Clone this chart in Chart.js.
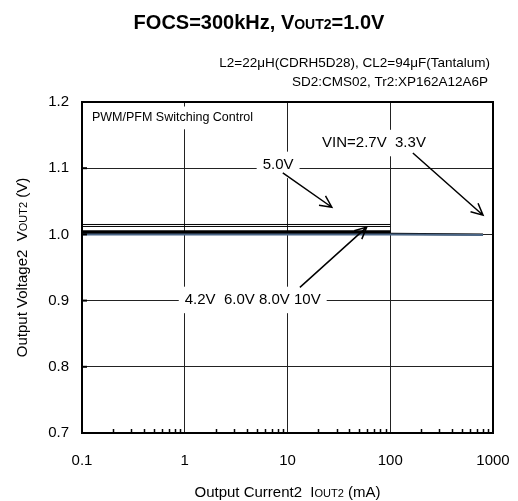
<!DOCTYPE html>
<html>
<head>
<meta charset="utf-8">
<script src="https://cdn.jsdelivr.net/npm/chart.js@4/dist/chart.umd.min.js"></script>
<style>
  html, body { margin: 0; padding: 0; background: #fff; }
</style>
</head>
<body>
<canvas id="chart" width="518" height="501"></canvas>
<script>
// ---- data ----
const currents     = [0.1, 1, 10, 100];          // mA
const currentsLong = [0.1, 1, 10, 100, 800];     // mA (low VIN curves run further)

const vin27 = [1.000, 1.000, 1.000, 1.000, 0.999];
const vin33 = [1.001, 1.001, 1.001, 1.001, 1.000];
const vin42 = [1.005, 1.005, 1.005, 1.005];
const vin50 = [1.015, 1.015, 1.015, 1.015];
const vin60 = [1.012, 1.012, 1.012, 1.012];
const vin80 = [1.004, 1.004, 1.004, 1.004];
const vin10 = [1.003, 1.003, 1.003, 1.003];

const xTicks = [0.1, 1, 10, 100, 1000];
const xTickLabels = ['0.1', '1', '10', '100', '1000'];
const yTicks = [0.7, 0.8, 0.9, 1.0, 1.1, 1.2];

const FONT = '"Liberation Sans", Arial, sans-serif';

function pts(xs, ys) {
  return ys.map((y, i) => ({ x: xs[i], y: y }));
}

function line(label, xs, ys, color, width) {
  return {
    label: label,
    data: pts(xs, ys),
    borderColor: color,
    borderWidth: width,
    pointRadius: 0,
    fill: false,
    tension: 0
  };
}

// draw text where part of it is set smaller (the "OUT2" subscript-ish caps)
function drawMixed(ctx, parts, x, y, align) {
  let total = 0;
  parts.forEach(p => { ctx.font = p.f; total += ctx.measureText(p.t).width; });
  let cx = align === 'center' ? x - total / 2 : (align === 'right' ? x - total : x);
  ctx.textAlign = 'left';
  ctx.textBaseline = 'alphabetic';
  parts.forEach(p => {
    ctx.font = p.f;
    ctx.fillText(p.t, cx, y);
    cx += ctx.measureText(p.t).width;
  });
}

function arrow(ctx, x1, y1, x2, y2) {
  const a = Math.atan2(y2 - y1, x2 - x1);
  const h = 13, w = 0.45;
  ctx.beginPath();
  ctx.moveTo(x1, y1);
  ctx.lineTo(x2, y2);
  ctx.moveTo(x2 - h * Math.cos(a - w), y2 - h * Math.sin(a - w));
  ctx.lineTo(x2, y2);
  ctx.lineTo(x2 - h * Math.cos(a + w), y2 - h * Math.sin(a + w));
  ctx.stroke();
}

// labels in the plot, anchored in data space
const boxLabels = [
  { t: 'PWM/PFM Switching Control', x: 0.125, y: 1.176, size: 12.5, align: 'left', pad: 10 },
  { t: '5.0V', x: 8.1, y: 1.105, size: 15, align: 'center', pad: 6 },
  { t: 'VIN=2.7V  3.3V', x: 21.7, y: 1.138, size: 15, align: 'left', pad: 5 },
  { t: '4.2V  6.0V 8.0V 10V', x: 1.0, y: 0.901, size: 15, align: 'left', pad: 6 }
];
const arrows = [
  { x1: 9.0, y1: 1.093, x2: 27, y2: 1.041 },     // 5.0V
  { x1: 166, y1: 1.123, x2: 800, y2: 1.029 },    // 3.3V
  { x1: 13.2, y1: 0.920, x2: 59, y2: 1.011 }     // 4.2V..10V
];

const decor = {
  id: 'decor',
  afterDatasetsDraw(chart) {
    const ctx = chart.ctx;
    const xs = chart.scales.x, ys = chart.scales.y;
    const a = chart.chartArea;
    ctx.save();

    // minor ticks on the bottom axis
    ctx.strokeStyle = '#000';
    ctx.lineWidth = 1.5;
    [0.1, 1, 10, 100].forEach(d => {
      for (let k = 2; k <= 9; k++) {
        const px = Math.round(xs.getPixelForValue(d * k)) + 0.5;
        ctx.beginPath();
        ctx.moveTo(px, a.bottom);
        ctx.lineTo(px, a.bottom - 4);
        ctx.stroke();
      }
    });
    // short stubs at the y majors
    ctx.lineWidth = 2;
    yTicks.forEach(v => {
      const py = ys.getPixelForValue(v);
      ctx.beginPath();
      ctx.moveTo(a.left, py);
      ctx.lineTo(a.left + 5, py);
      ctx.stroke();
    });

    // labels with white boxes hiding the grid behind them
    boxLabels.forEach(l => {
      ctx.font = l.size + 'px ' + FONT;
      const w = ctx.measureText(l.t).width;
      const px = xs.getPixelForValue(l.x), py = ys.getPixelForValue(l.y);
      const left = l.align === 'center' ? px - w / 2 : px;
      ctx.fillStyle = '#fff';
      ctx.fillRect(left - l.pad, py - l.size * 0.75 - 2, w + 2 * l.pad, l.size * 1.5 + 4);
      ctx.fillStyle = '#000';
      ctx.textBaseline = 'middle';
      ctx.textAlign = 'left';
      ctx.fillText(l.t, left, py);
    });

    // arrows
    ctx.strokeStyle = '#000';
    ctx.lineWidth = 1.5;
    arrows.forEach(r => {
      arrow(ctx, xs.getPixelForValue(r.x1), ys.getPixelForValue(r.y1),
                 xs.getPixelForValue(r.x2), ys.getPixelForValue(r.y2));
    });

    // frame
    ctx.lineWidth = 2;
    ctx.strokeRect(a.left, a.top, a.right - a.left, a.bottom - a.top);
    ctx.restore();
  },
  afterDraw(chart) {
    const ctx = chart.ctx;
    const a = chart.chartArea;
    ctx.save();
    ctx.fillStyle = '#000';
    // title
    drawMixed(ctx, [
      { t: 'FOCS=300kHz, V', f: 'bold 20px ' + FONT },
      { t: 'OUT2', f: 'bold 14px ' + FONT },
      { t: '=1.0V', f: 'bold 20px ' + FONT }
    ], 259, 29, 'center');
    // conditions
    ctx.font = '13.5px ' + FONT;
    ctx.textAlign = 'right';
    ctx.textBaseline = 'alphabetic';
    ctx.fillText('L2=22\u03bcH(CDRH5D28), CL2=94\u03bcF(Tantalum)', 490, 67);
    ctx.fillText('SD2:CMS02, Tr2:XP162A12A6P', 488, 86);
    // x axis title
    drawMixed(ctx, [
      { t: 'Output Current2  I', f: '15px ' + FONT },
      { t: 'OUT2', f: '11px ' + FONT },
      { t: ' (mA)', f: '15px ' + FONT }
    ], (a.left + a.right) / 2, 497, 'center');
    // y axis title
    ctx.translate(27, (a.top + a.bottom) / 2);
    ctx.rotate(-Math.PI / 2);
    drawMixed(ctx, [
      { t: 'Output Voltage2  V', f: '15px ' + FONT },
      { t: 'OUT2', f: '11px ' + FONT },
      { t: ' (V)', f: '15px ' + FONT }
    ], 0, 0, 'center');
    ctx.restore();
  }
};

new Chart(document.getElementById('chart'), {
  type: 'line',
  data: {
    datasets: [
      line('2.7V', currentsLong, vin27, '#4a6585', 2),
      line('3.3V', currentsLong, vin33, '#000', 2),
      line('4.2V', currents, vin42, '#000', 1.5),
      line('5.0V', currents, vin50, '#000', 1),
      line('6.0V', currents, vin60, '#000', 1),
      line('8.0V', currents, vin80, '#000', 1.5),
      line('10V',  currents, vin10, '#000', 1.5)
    ]
  },
  options: {
    responsive: false,
    animation: false,
    layout: { padding: { top: 102, right: 25, left: 0, bottom: 0 } },
    plugins: {
      legend: { display: false },
      title: { display: false },
      tooltip: { enabled: false }
    },
    scales: {
      x: {
        type: 'logarithmic',
        min: 0.1,
        max: 1000,
        afterBuildTicks: s => { s.ticks = xTicks.map(v => ({ value: v })); },
        // fixed box so the plot lands where the reference has it
        afterFit: s => { s.height = 68; s.paddingLeft = 0; s.paddingRight = 0; },
        ticks: {
          autoSkip: false,
          maxRotation: 0,
          padding: 19,
          color: '#000',
          font: { family: FONT, size: 15 },
          callback: (v) => {
            const i = xTicks.findIndex(t => Math.abs(t - v) / t < 1e-6);
            return i >= 0 ? xTickLabels[i] : '';
          }
        },
        grid: { color: '#222', lineWidth: 1, drawTicks: false },
        border: { display: false }
      },
      y: {
        min: 0.7,
        max: 1.2,
        afterBuildTicks: s => { s.ticks = yTicks.map(v => ({ value: v })); },
        afterFit: s => { s.width = 82; s.paddingTop = 0; s.paddingBottom = 0; },
        ticks: {
          padding: 13,
          color: '#000',
          font: { family: FONT, size: 15 },
          callback: v => v.toFixed(1)
        },
        grid: { color: '#222', lineWidth: 1, drawTicks: false },
        border: { display: false }
      }
    }
  },
  plugins: [decor]
});
</script>
</body>
</html>
